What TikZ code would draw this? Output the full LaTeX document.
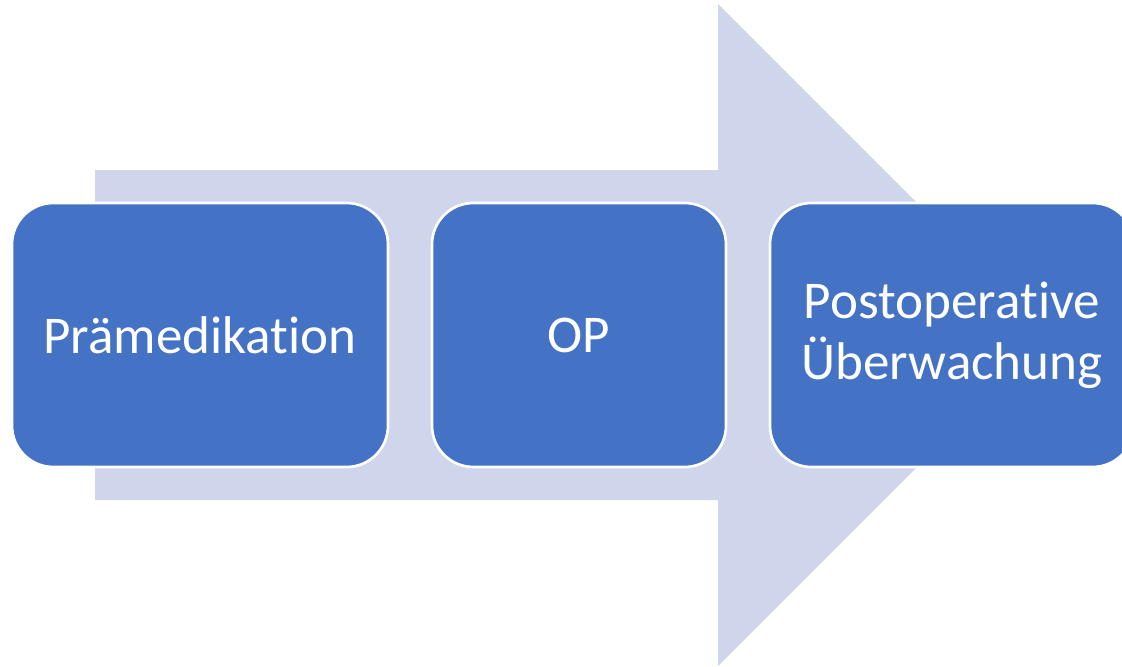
\documentclass[tikz,border=0pt]{standalone}
\usepackage{fontspec}
\setmainfont{Carlito}[Ligatures={NoCommon}]
\definecolor{arrowfill}{HTML}{CFD5EA}
\definecolor{stepfill}{HTML}{4472C4}
\tikzset{
  stepbox/.style={draw=white, line width=2pt, fill=stepfill, rounded corners=31pt,
    text=white, align=center, inner sep=0pt,
    font=\fontsize{39.8}{46}\selectfont},
}
\begin{document}
\begin{tikzpicture}[x=0.75pt, y=-0.75pt]
  \useasboundingbox (0,0) rectangle (1122,667);
  \clip (0,0) rectangle (1122,667);
  % background process arrow
  \fill[arrowfill] (95,170) -- (718,170) -- (718,4) -- (1049,335) -- (718,666)
    -- (718,500) -- (95,500) -- cycle;
  % process steps
  \node[stepbox, minimum width=282pt, minimum height=198pt] (pre) at (200,335) {Prämedikation};
  \node[stepbox, minimum width=220.5pt, minimum height=198pt] (op) at (579,335) {OP};
  \node[stepbox, minimum width=273pt, minimum height=198pt] (post) at (952,335) {Postoperative\\Überwachung};
\end{tikzpicture}
\end{document}
